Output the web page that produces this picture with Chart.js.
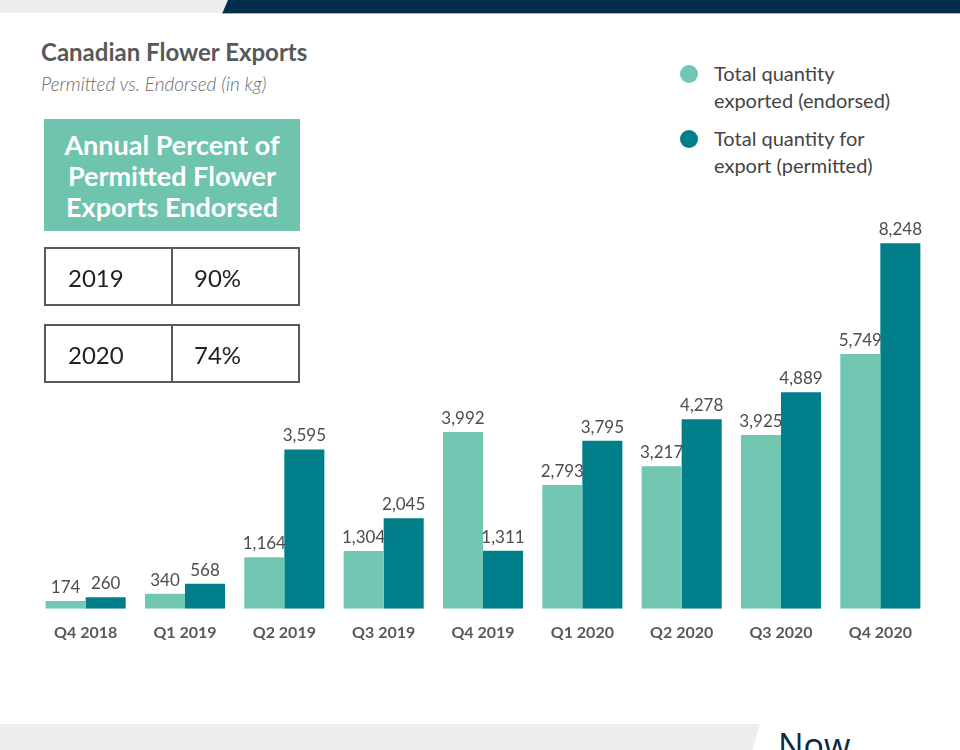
<!DOCTYPE html>
<html>
<head>
<meta charset="utf-8">
<script src="https://cdn.jsdelivr.net/npm/chart.js@4/dist/chart.umd.min.js"></script>
<style>
  html, body { margin: 0; padding: 0; }
  body { width: 960px; height: 750px; overflow: hidden; position: relative; background: #fff; font-family: Lato, "Noto Sans", sans-serif; }
  .band-grey { position: absolute; left: 0; top: 0; width: 960px; height: 13px; background: #ebedef; }
  .band-navy { position: absolute; left: 215px; top: 0; width: 745px; height: 13px; background: #022e4c;
    clip-path: polygon(13px 0, 100% 0, 100% 100%, 7px 100%); border-bottom: 1px solid #8fb6c9; }
  .title { position: absolute; left: 41px; top: 37px; font-size: 24px; font-weight: 700; color: #58595b; }
  .subtitle { position: absolute; left: 41px; top: 72px; font-size: 19px; font-style: italic; font-weight: 300; color: #6a6a6a; }
  .head { position: absolute; left: 44px; top: 119px; width: 256px; height: 112px; background: #6fc4ad;
    color: #fff; font-weight: 700; font-size: 27px; line-height: 31px; text-align: center; padding-top: 10px; box-sizing: border-box; }
  .row { position: absolute; left: 44px; width: 256px; height: 59px; border: 2px solid #58595b; box-sizing: border-box;
    font-size: 24px; color: #222; }
  .row .div { position: absolute; left: 125px; top: 0; bottom: 0; width: 2px; background: #58595b; }
  .row .a { position: absolute; left: 22px; top: 14px; }
  .row .b { position: absolute; left: 148px; top: 14px; }
  .legend { position: absolute; left: 680px; font-size: 20px; line-height: 27px; color: #444; }
  .legend .dot { position: absolute; left: 0; top: 5px; width: 18px; height: 18px; border-radius: 50%; }
  .legend .txt { position: absolute; left: 34px; top: 0; white-space: nowrap; }
  .footer { position: absolute; left: 0; top: 724px; width: 760px; height: 26px; background: #eceef0;
    clip-path: polygon(0 0, 100% 0, 99% 100%, 0 100%); }
  .logo { position: absolute; left: 778px; top: 722px; font-size: 34px; color: #0a2a44; font-family: "Open Sans", sans-serif; }
  #wrap { position: absolute; left: 0; top: 200px; width: 960px; height: 460px; }
</style>
</head>
<body>
<div class="band-grey"></div>
<div class="band-navy"></div>
<div class="title">Canadian Flower Exports</div>
<div class="subtitle">Permitted vs. Endorsed (in kg)</div>

<div id="wrap"><canvas id="chart"></canvas></div>

<div class="head">Annual Percent of<br>Permitted Flower<br>Exports Endorsed</div>
<div class="row" style="top:247px"><span class="a">2019</span><div class="div"></div><span class="b">90%</span></div>
<div class="row" style="top:324px"><span class="a">2020</span><div class="div"></div><span class="b">74%</span></div>

<div class="legend" style="top:60px"><span class="dot" style="background:#72c7b2"></span><span class="txt">Total quantity<br>exported (endorsed)</span></div>
<div class="legend" style="top:125px"><span class="dot" style="background:#007f8a"></span><span class="txt">Total quantity for<br>export (permitted)</span></div>

<div class="footer"></div>
<div class="logo">Now</div>

<script>
var quarters = ["Q4 2018", "Q1 2019", "Q2 2019", "Q3 2019", "Q4 2019", "Q1 2020", "Q2 2020", "Q3 2020", "Q4 2020"];
var endorsed = [174, 340, 1164, 1304, 3992, 2793, 3217, 3925, 5749];
var permitted = [260, 568, 3595, 2045, 1311, 3795, 4278, 4889, 8248];

// draws the number above each bar
var valueLabels = {
	id : "valueLabels",
	afterDatasetsDraw : function(chart) {
		var ctx = chart.ctx;
		ctx.save();
		ctx.font = "17px Lato, 'Noto Sans', sans-serif";
		ctx.fillStyle = "#4d4d4f";
		ctx.textAlign = "center";
		ctx.textBaseline = "bottom";
		chart.data.datasets.forEach(function(ds, i) {
			chart.getDatasetMeta(i).data.forEach(function(bar, j) {
				ctx.fillText(ds.data[j].toLocaleString("en-US"), bar.x, bar.y - 5);
			});
		});
		ctx.restore();
	}
};

var chart = new Chart(document.getElementById("chart"), {
	type : "bar",
	data : {
		labels : quarters,
		datasets : [
			{
				label : "Total quantity exported (endorsed)",
				data : endorsed,
				backgroundColor : "#72c7b2",
				categoryPercentage : 0.806,
				barPercentage : 1.0
			},
			{
				label : "Total quantity for export (permitted)",
				data : permitted,
				backgroundColor : "#007f8a",
				categoryPercentage : 0.806,
				barPercentage : 1.0
			}
		]
	},
	options : {
		responsive : true,
		maintainAspectRatio : false,
		animation : false,
		layout : {
			padding : { left : 36, right : 30, top : 10, bottom : 12 }
		},
		plugins : {
			legend : { display : false },
			tooltip : { enabled : false }
		},
		scales : {
			x : {
				grid : { display : false },
				border : { display : false },
				ticks : {
					color : "#58595b",
					padding : 6,
					font : { family : "Lato, 'Noto Sans', sans-serif", size : 16, weight : "bold" }
				}
			},
			y : {
				display : false,
				min : 0,
				max : 9000
			}
		}
	},
	plugins : [valueLabels]
});
</script>
</body>
</html>
